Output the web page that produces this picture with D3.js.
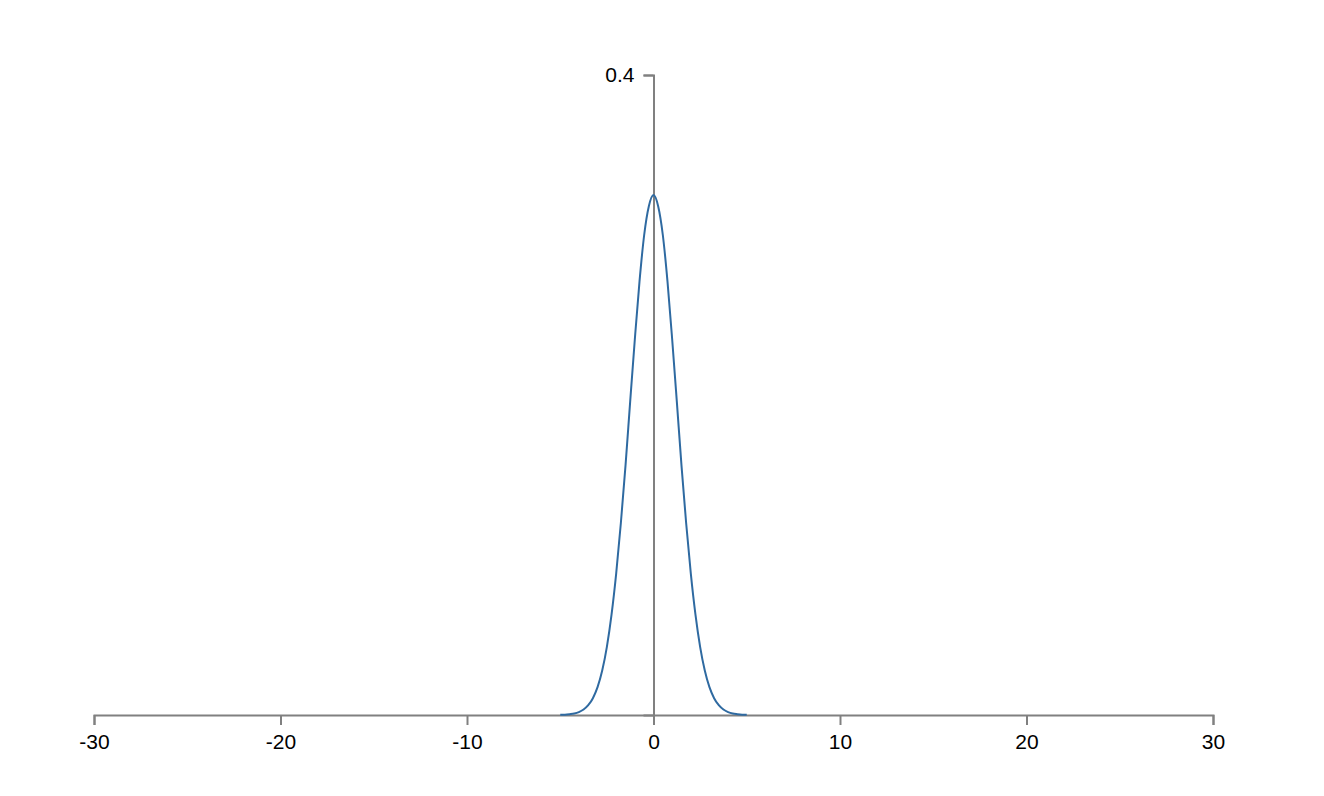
<!DOCTYPE html>
<html>
<head>
<meta charset="utf-8">
<script src="https://cdn.jsdelivr.net/npm/d3@7"></script>
<style>
  body { margin: 0; background: #fff; }
  .axis path, .axis line { stroke: #808080; stroke-width: 2px; }
  .axis text { font-family: "Liberation Sans", Arial, sans-serif; font-size: 21px; fill: #000; }
</style>
</head>
<body>
<div id="chart"></div>
<script>
const width = 1324;
const height = 796;
const margin = { top: 75, right: 111, bottom: 81, left: 94 };

// x positions and density values
const xValues = [-5, -4.75, -4.5, -4.25, -4, -3.75, -3.5, -3.25, -3, -2.75, -2.5, -2.25, -2, -1.75, -1.5, -1.25, -1, -0.75, -0.5, -0.25,
                 0, 0.25, 0.5, 0.75, 1, 1.25, 1.5, 1.75, 2, 2.25, 2.5, 2.75, 3, 3.25, 3.5, 3.75, 4, 4.25, 4.5, 4.75, 5];
const yValues = [0.0001, 0.0002, 0.0005, 0.0009, 0.0018, 0.0034, 0.0061, 0.0105, 0.0174, 0.0278, 0.0426, 0.0627, 0.0885, 0.12, 0.156, 0.196, 0.235, 0.271, 0.3, 0.318,
                 0.325, 0.318, 0.3, 0.271, 0.235, 0.196, 0.156, 0.12, 0.0885, 0.0627, 0.0426, 0.0278, 0.0174, 0.0105, 0.0061, 0.0034, 0.0018, 0.0009, 0.0005, 0.0002, 0.0001];
const xTicks = [-30, -20, -10, 0, 10, 20, 30];
const yTicks = [0.4];

const data = xValues.map((x, i) => ({ x: x, y: yValues[i] }));

const x = d3
  .scaleLinear()
  .domain([-30, 30])
  .range([margin.left, width - margin.right]);

const y = d3
  .scaleLinear()
  .domain([0, 0.4])
  .range([height - margin.bottom, margin.top]);

const svg = d3
  .select("#chart")
  .append("svg")
  .attr("width", width)
  .attr("height", height);

// x axis, plain hyphen for negatives
svg
  .append("g")
  .attr("class", "axis")
  .attr("transform", `translate(0,${height - margin.bottom})`)
  .call(d3.axisBottom(x).tickValues(xTicks).tickSize(10).tickFormat((d) => String(d)))
  .call((g) => g.selectAll("text").attr("y", 19).attr("dy", "0.71em"));

// y axis at x = 0
svg
  .append("g")
  .attr("class", "axis")
  .attr("transform", `translate(${x(0)},0)`)
  .call(d3.axisLeft(y).tickValues(yTicks).tickSize(10).tickPadding(9).tickFormat(d3.format(".1f")));

const line = d3
  .line()
  .x((d) => x(d.x))
  .y((d) => y(d.y))
  .curve(d3.curveMonotoneX);

svg
  .append("path")
  .datum(data)
  .attr("fill", "none")
  .attr("stroke", "#2f6aa1")
  .attr("stroke-width", 2)
  .attr("d", line);
</script>
</body>
</html>
